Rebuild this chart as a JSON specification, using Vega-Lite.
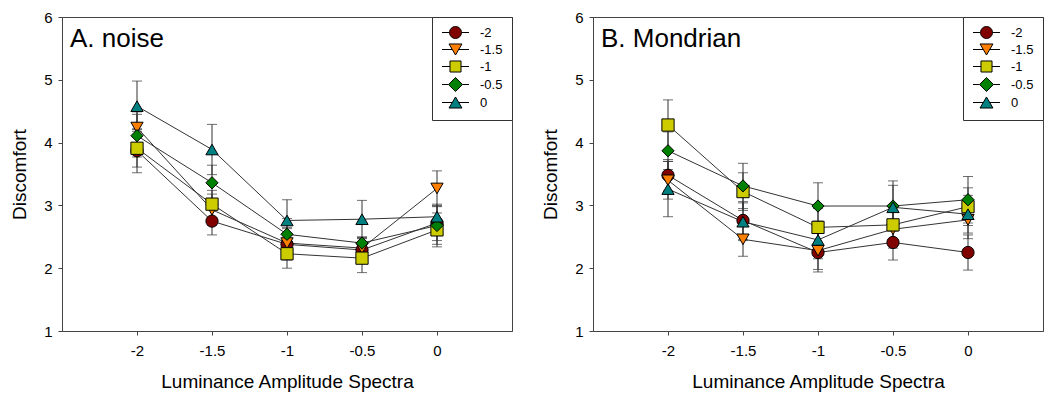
{
  "$schema": "https://vega.github.io/schema/vega-lite/v6.json",
  "padding": {"left": 10, "top": 9, "right": 5, "bottom": 5},
  "background": "white",
  "config": {
    "font": "Liberation Sans",
    "view": {"stroke": "#444", "strokeWidth": 1},
    "axis": {"grid": false, "domainColor": "#444", "tickColor": "#444", "tickSize": 4, "labelFontSize": 15, "labelColor": "black", "titleFontSize": 19, "titleFontWeight": "normal", "titleColor": "black", "labelFont": "Liberation Sans", "titleFont": "Liberation Sans"},
    "legend": {"orient": "top-right", "offset": 0, "title": null, "strokeColor": "#333", "fillColor": "white", "padding": 9, "symbolSize": 144, "symbolOffset": 8, "symbolStrokeColor": "black", "symbolStrokeWidth": 1, "labelFontSize": 13, "labelFont": "Liberation Sans", "labelColor": "black", "labelOffset": 18, "rowPadding": 0}
  },
  "datasets": {
    "obs": [
    {"panel": "noise", "series": "-2", "las": -2, "mean": 3.87, "se": 0.35},
    {"panel": "noise", "series": "-1.5", "las": -2, "mean": 4.24, "se": 0.25},
    {"panel": "noise", "series": "-1", "las": -2, "mean": 3.91, "se": 0.30},
    {"panel": "noise", "series": "-0.5", "las": -2, "mean": 4.11, "se": 0.34},
    {"panel": "noise", "series": "0", "las": -2, "mean": 4.58, "se": 0.40},
    {"panel": "noise", "series": "-2", "las": -1.5, "mean": 2.75, "se": 0.22},
    {"panel": "noise", "series": "-1.5", "las": -1.5, "mean": 2.93, "se": 0.25},
    {"panel": "noise", "series": "-1", "las": -1.5, "mean": 3.02, "se": 0.22},
    {"panel": "noise", "series": "-0.5", "las": -1.5, "mean": 3.36, "se": 0.28},
    {"panel": "noise", "series": "0", "las": -1.5, "mean": 3.89, "se": 0.40},
    {"panel": "noise", "series": "-2", "las": -1, "mean": 2.38, "se": 0.25},
    {"panel": "noise", "series": "-1.5", "las": -1, "mean": 2.40, "se": 0.25},
    {"panel": "noise", "series": "-1", "las": -1, "mean": 2.23, "se": 0.23},
    {"panel": "noise", "series": "-0.5", "las": -1, "mean": 2.54, "se": 0.25},
    {"panel": "noise", "series": "0", "las": -1, "mean": 2.76, "se": 0.33},
    {"panel": "noise", "series": "-2", "las": -0.5, "mean": 2.29, "se": 0.20},
    {"panel": "noise", "series": "-1.5", "las": -0.5, "mean": 2.32, "se": 0.15},
    {"panel": "noise", "series": "-1", "las": -0.5, "mean": 2.16, "se": 0.23},
    {"panel": "noise", "series": "-0.5", "las": -0.5, "mean": 2.40, "se": 0.10},
    {"panel": "noise", "series": "0", "las": -0.5, "mean": 2.78, "se": 0.30},
    {"panel": "noise", "series": "-2", "las": 0, "mean": 2.72, "se": 0.28},
    {"panel": "noise", "series": "-1.5", "las": 0, "mean": 3.27, "se": 0.28},
    {"panel": "noise", "series": "-1", "las": 0, "mean": 2.61, "se": 0.27},
    {"panel": "noise", "series": "-0.5", "las": 0, "mean": 2.68, "se": 0.30},
    {"panel": "noise", "series": "0", "las": 0, "mean": 2.82, "se": 0.20},
    {"panel": "mondrian", "series": "-2", "las": -2, "mean": 3.48, "se": 0.25},
    {"panel": "mondrian", "series": "-1.5", "las": -2, "mean": 3.40, "se": 0.30},
    {"panel": "mondrian", "series": "-1", "las": -2, "mean": 4.28, "se": 0.40},
    {"panel": "mondrian", "series": "-0.5", "las": -2, "mean": 3.87, "se": 0.30},
    {"panel": "mondrian", "series": "0", "las": -2, "mean": 3.26, "se": 0.44},
    {"panel": "mondrian", "series": "-2", "las": -1.5, "mean": 2.76, "se": 0.30},
    {"panel": "mondrian", "series": "-1.5", "las": -1.5, "mean": 2.46, "se": 0.27},
    {"panel": "mondrian", "series": "-1", "las": -1.5, "mean": 3.22, "se": 0.30},
    {"panel": "mondrian", "series": "-0.5", "las": -1.5, "mean": 3.31, "se": 0.36},
    {"panel": "mondrian", "series": "0", "las": -1.5, "mean": 2.74, "se": 0.30},
    {"panel": "mondrian", "series": "-2", "las": -1, "mean": 2.25, "se": 0.31},
    {"panel": "mondrian", "series": "-1.5", "las": -1, "mean": 2.28, "se": 0.30},
    {"panel": "mondrian", "series": "-1", "las": -1, "mean": 2.65, "se": 0.30},
    {"panel": "mondrian", "series": "-0.5", "las": -1, "mean": 2.99, "se": 0.37},
    {"panel": "mondrian", "series": "0", "las": -1, "mean": 2.45, "se": 0.30},
    {"panel": "mondrian", "series": "-2", "las": -0.5, "mean": 2.41, "se": 0.28},
    {"panel": "mondrian", "series": "-1.5", "las": -0.5, "mean": 2.62, "se": 0.30},
    {"panel": "mondrian", "series": "-1", "las": -0.5, "mean": 2.69, "se": 0.30},
    {"panel": "mondrian", "series": "-0.5", "las": -0.5, "mean": 2.99, "se": 0.40},
    {"panel": "mondrian", "series": "0", "las": -0.5, "mean": 2.97, "se": 0.35},
    {"panel": "mondrian", "series": "-2", "las": 0, "mean": 2.25, "se": 0.28},
    {"panel": "mondrian", "series": "-1.5", "las": 0, "mean": 2.77, "se": 0.30},
    {"panel": "mondrian", "series": "-1", "las": 0, "mean": 2.98, "se": 0.30},
    {"panel": "mondrian", "series": "-0.5", "las": 0, "mean": 3.09, "se": 0.37},
    {"panel": "mondrian", "series": "0", "las": 0, "mean": 2.86, "se": 0.30}
    ]
  },
  "resolve": {"scale": {"fill": "independent"}, "legend": {"fill": "independent"}},
  "spacing": 28,
  "hconcat": [
    {
      "width": 450, "height": 314,
      "layer": [
        {"data": {"name": "obs"}, "transform": [{"filter": "datum.panel == 'noise'"}],
         "mark": {"type": "errorbar", "ticks": true, "size": 10, "thickness": 1, "color": "#333"},
         "encoding": {
           "x": {"field": "las", "type": "quantitative", "scale": {"domain": [-2.5, 0.5], "nice": false, "zero": false}, "title": "Luminance Amplitude Spectra", "axis": {"values": [-2, -1.5, -1, -0.5, 0], "labelExpr": "'' + datum.value", "labelPadding": 8, "titlePadding": 14}},
           "y": {"field": "mean", "type": "quantitative", "scale": {"domain": [1, 6], "nice": false, "zero": false}, "title": "Discomfort", "axis": {"values": [1, 2, 3, 4, 5, 6], "labelExpr": "'' + datum.value", "labelPadding": 6, "titlePadding": 14}},
           "yError": {"field": "se"}}},
        {"data": {"name": "obs"}, "transform": [{"filter": "datum.panel == 'noise'"}],
         "mark": {"type": "line", "color": "#333", "strokeWidth": 1},
         "encoding": {
           "x": {"field": "las", "type": "quantitative", "title": "Luminance Amplitude Spectra"},
           "y": {"field": "mean", "type": "quantitative", "title": "Discomfort"},
           "detail": {"field": "series"}}},
        {"data": {"name": "obs"}, "transform": [{"filter": "datum.panel == 'noise'"}],
         "mark": {"type": "point", "filled": true, "size": 150, "stroke": "black", "strokeWidth": 1, "opacity": 1},
         "encoding": {
           "x": {"field": "las", "type": "quantitative", "title": "Luminance Amplitude Spectra"},
           "y": {"field": "mean", "type": "quantitative", "title": "Discomfort"},
           "fill": {"field": "series", "type": "nominal", "scale": {"domain": ["-2", "-1.5", "-1", "-0.5", "0"], "range": ["#800000", "#FF8000", "#CCCC00", "#008000", "#008080"]},
             "legend": {"symbolType": {"expr": "datum.value === '-2' ? 'M-2.25,0H-1M1,0H2.25M-1,0A1,1,0,1,1,1,0A1,1,0,1,1,-1,0Z' : datum.value === '-1.5' ? 'M-2.25,0H-0.54M0.54,0H2.25M-1.08,-0.92L1.08,-0.92L0,0.92Z' : datum.value === '-1' ? 'M-2.25,0H-0.92M0.92,0H2.25M-0.92,-0.92H0.92V0.92H-0.92Z' : datum.value === '-0.5' ? 'M-2.25,0H-1.17M1.17,0H2.25M0,-1.17L1.17,0L0,1.17L-1.17,0Z' : 'M-2.25,0H-0.54M0.54,0H2.25M0,-0.92L1.08,0.92L-1.08,0.92Z'"}}},
           "shape": {"condition": [{"test": "datum.series === '-2'", "value": "circle"}, {"test": "datum.series === '-1.5'", "value": "triangle-down"}, {"test": "datum.series === '-1'", "value": "square"}, {"test": "datum.series === '-0.5'", "value": "diamond"}], "value": "triangle-up"}
         }},
        {"data": {"values": [{"label": "A. noise"}]},
         "mark": {"type": "text", "align": "left", "baseline": "alphabetic", "dx": 8, "dy": 30, "fontSize": 26, "font": "Liberation Sans", "color": "black"},
         "encoding": {"x": {"datum": -2.5}, "y": {"datum": 6}, "text": {"field": "label", "type": "nominal"}}}
      ]
    },
    {
      "width": 450, "height": 314,
      "layer": [
        {"data": {"name": "obs"}, "transform": [{"filter": "datum.panel == 'mondrian'"}],
         "mark": {"type": "errorbar", "ticks": true, "size": 10, "thickness": 1, "color": "#333"},
         "encoding": {
           "x": {"field": "las", "type": "quantitative", "scale": {"domain": [-2.5, 0.5], "nice": false, "zero": false}, "title": "Luminance Amplitude Spectra", "axis": {"values": [-2, -1.5, -1, -0.5, 0], "labelExpr": "'' + datum.value", "labelPadding": 8, "titlePadding": 14}},
           "y": {"field": "mean", "type": "quantitative", "scale": {"domain": [1, 6], "nice": false, "zero": false}, "title": "Discomfort", "axis": {"values": [1, 2, 3, 4, 5, 6], "labelExpr": "'' + datum.value", "labelPadding": 6, "titlePadding": 14}},
           "yError": {"field": "se"}}},
        {"data": {"name": "obs"}, "transform": [{"filter": "datum.panel == 'mondrian'"}],
         "mark": {"type": "line", "color": "#333", "strokeWidth": 1},
         "encoding": {
           "x": {"field": "las", "type": "quantitative", "title": "Luminance Amplitude Spectra"},
           "y": {"field": "mean", "type": "quantitative", "title": "Discomfort"},
           "detail": {"field": "series"}}},
        {"data": {"name": "obs"}, "transform": [{"filter": "datum.panel == 'mondrian'"}],
         "mark": {"type": "point", "filled": true, "size": 150, "stroke": "black", "strokeWidth": 1, "opacity": 1},
         "encoding": {
           "x": {"field": "las", "type": "quantitative", "title": "Luminance Amplitude Spectra"},
           "y": {"field": "mean", "type": "quantitative", "title": "Discomfort"},
           "fill": {"field": "series", "type": "nominal", "scale": {"domain": ["-2", "-1.5", "-1", "-0.5", "0"], "range": ["#800000", "#FF8000", "#CCCC00", "#008000", "#008080"]},
             "legend": {"symbolType": {"expr": "datum.value === '-2' ? 'M-2.25,0H-1M1,0H2.25M-1,0A1,1,0,1,1,1,0A1,1,0,1,1,-1,0Z' : datum.value === '-1.5' ? 'M-2.25,0H-0.54M0.54,0H2.25M-1.08,-0.92L1.08,-0.92L0,0.92Z' : datum.value === '-1' ? 'M-2.25,0H-0.92M0.92,0H2.25M-0.92,-0.92H0.92V0.92H-0.92Z' : datum.value === '-0.5' ? 'M-2.25,0H-1.17M1.17,0H2.25M0,-1.17L1.17,0L0,1.17L-1.17,0Z' : 'M-2.25,0H-0.54M0.54,0H2.25M0,-0.92L1.08,0.92L-1.08,0.92Z'"}}},
           "shape": {"condition": [{"test": "datum.series === '-2'", "value": "circle"}, {"test": "datum.series === '-1.5'", "value": "triangle-down"}, {"test": "datum.series === '-1'", "value": "square"}, {"test": "datum.series === '-0.5'", "value": "diamond"}], "value": "triangle-up"}
         }},
        {"data": {"values": [{"label": "B. Mondrian"}]},
         "mark": {"type": "text", "align": "left", "baseline": "alphabetic", "dx": 8, "dy": 30, "fontSize": 26, "font": "Liberation Sans", "color": "black"},
         "encoding": {"x": {"datum": -2.5}, "y": {"datum": 6}, "text": {"field": "label", "type": "nominal"}}}
      ]
    }
  ]
}
